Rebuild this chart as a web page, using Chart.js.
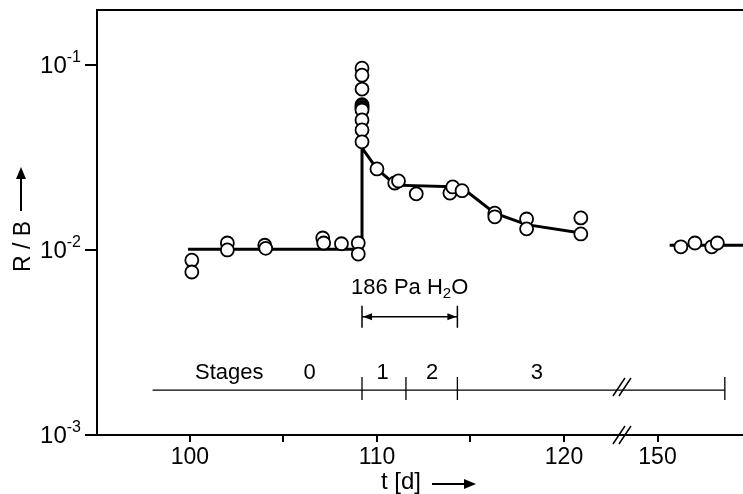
<!DOCTYPE html>
<html>
<head>
<meta charset="utf-8">
<script src="https://cdn.jsdelivr.net/npm/chart.js@4.4.1/dist/chart.umd.min.js"></script>
<style>
  html, body { margin: 0; padding: 0; background: #fff; overflow: hidden; }
  #wrap { width: 743px; height: 494px; overflow: hidden; }
</style>
</head>
<body>
<div id="wrap"><canvas id="chart" width="790" height="494"></canvas></div>
<script>
// measured points: time [d] and R/B
const measT = [100.1, 100.1, 102.0, 102.0, 104.0, 104.05, 107.1, 107.15, 108.1, 109.0, 109.0,
    109.2, 109.2, 109.2, 109.2, 109.2, 109.2, 109.2, 109.2, 109.2, 109.2, 109.2,
    110.0, 110.95, 111.15, 112.1, 113.9, 114.05, 114.55, 116.3, 116.3, 118.0, 118.0, 120.9, 120.9,
    151.25, 152.0, 152.9, 153.2];
const measRB = [0.0088, 0.0076, 0.0109, 0.0100, 0.0106, 0.0102, 0.0116, 0.0109, 0.0108, 0.0109, 0.0095,
    0.096, 0.088, 0.074, 0.061, 0.060, 0.059, 0.058, 0.057, 0.0504, 0.0445, 0.0384,
    0.0274, 0.0230, 0.0236, 0.0201, 0.0203, 0.0219, 0.0209, 0.0158, 0.0151, 0.0147, 0.0130, 0.0149, 0.0122,
    0.0104, 0.0109, 0.0104, 0.0109];

// fitted curve
const fitT = [99.9, 109.2, 109.2, 110.0, 111.0, 114.5, 116.3, 118.0, 121.0];
const fitRB = [0.0101, 0.0101, 0.0356, 0.0274, 0.0224, 0.0219, 0.0158, 0.0137, 0.0123];
const fitLateT = [150.65, 160];
const fitLateRB = [0.0106, 0.0106];

// axes
const xTickVals = [100, 105, 110, 115, 120, 150];
const xTickLabels = ['100', '', '110', '', '120', '150'];
const yTickVals = [0.001, 0.01, 0.1];
const yTickExp = ['-3', '-2', '-1'];
const breakFrom = 123.1, breakShift = 25;   // 150 d is drawn at 125

// stages
const stageBounds = [98, 109.2, 111.55, 114.3, 153.6];
const stageNames = ['Stages', '0', '1', '2', '3'];
const stageNameT = [102.1, 106.4, 110.3, 112.95, 118.55];
const stageLevel = 0.00175;

// exposure annotation
const exposureT = [109.2, 114.3];
const exposureLevel = 0.00435;

const FONT = '"Liberation Sans", Arial, Helvetica, sans-serif';

function tx(t) { return t > breakFrom + 5 ? t - breakShift : t; }
const pts = (ts, vs) => ts.map((t, i) => ({ x: tx(t), y: vs[i] }));

function arrowHead(ctx, x, y, dir, len, half) {
    ctx.beginPath();
    ctx.moveTo(x, y);
    ctx.lineTo(x - dir * len, y - half);
    ctx.lineTo(x - dir * len, y + half);
    ctx.closePath();
    ctx.fill();
}

const extras = {
    id: 'extras',
    afterDraw(chart) {
        const ctx = chart.ctx, ca = chart.chartArea;
        const xs = chart.scales.x, ys = chart.scales.y;
        ctx.save();
        ctx.strokeStyle = '#000';
        ctx.fillStyle = '#000';

        // frame top and x axis stub left of y axis
        ctx.lineWidth = 2;
        ctx.beginPath();
        ctx.moveTo(ca.left - 1, ca.top);
        ctx.lineTo(chart.width, ca.top);
        ctx.moveTo(ca.left - 7, ca.bottom);
        ctx.lineTo(ca.left, ca.bottom);
        ctx.stroke();

        // y labels 10^n
        yTickVals.forEach((v, i) => {
            const y = ys.getPixelForValue(v);
            ctx.font = '16px ' + FONT;
            const sw = ctx.measureText(yTickExp[i]).width;
            ctx.textAlign = 'left';
            ctx.textBaseline = 'middle';
            ctx.fillText(yTickExp[i], 81 - sw, y - 7);
            ctx.font = '24px ' + FONT;
            ctx.textAlign = 'right';
            ctx.fillText('10', 81 - sw, y + 1);
        });

        // axis break marks
        const drawBreak = (y) => {
            const X = xs.getPixelForValue(breakFrom);
            ctx.lineWidth = 1.5;
            ctx.beginPath();
            [-3, 3].forEach(o => {
                ctx.moveTo(X + o - 6, y + 9);
                ctx.lineTo(X + o + 6, y - 9);
            });
            ctx.stroke();
        };
        drawBreak(ca.bottom);

        // stages
        const sy = ys.getPixelForValue(stageLevel);
        ctx.lineWidth = 1.3;
        ctx.beginPath();
        ctx.moveTo(xs.getPixelForValue(tx(stageBounds[0])), sy);
        ctx.lineTo(xs.getPixelForValue(tx(stageBounds[stageBounds.length - 1])), sy);
        stageBounds.slice(1).forEach(t => {
            const X = xs.getPixelForValue(tx(t));
            ctx.moveTo(X, sy - 13);
            ctx.lineTo(X, sy + 10);
        });
        ctx.stroke();
        drawBreak(sy - 3);
        ctx.font = '22px ' + FONT;
        ctx.textAlign = 'center';
        ctx.textBaseline = 'middle';
        stageNames.forEach((s, i) => {
            ctx.fillText(s, xs.getPixelForValue(tx(stageNameT[i])), sy - 17);
        });

        // exposure arrow 186 Pa H2O
        const ay = ys.getPixelForValue(exposureLevel);
        const x1 = xs.getPixelForValue(exposureT[0]), x2 = xs.getPixelForValue(exposureT[1]);
        ctx.lineWidth = 1.5;
        ctx.beginPath();
        ctx.moveTo(x1, ay); ctx.lineTo(x2, ay);
        ctx.moveTo(x1, ay - 11); ctx.lineTo(x1, ay + 11);
        ctx.moveTo(x2, ay - 11); ctx.lineTo(x2, ay + 11);
        ctx.stroke();
        arrowHead(ctx, x1 + 1, ay, -1, 9, 3.5);
        arrowHead(ctx, x2 - 1, ay, 1, 9, 3.5);
        ctx.font = '22px ' + FONT;
        const p1 = '186 Pa H', p2 = '2', p3 = 'O';
        const w1 = ctx.measureText(p1).width, w3 = ctx.measureText(p3).width;
        ctx.font = '15px ' + FONT;
        const w2 = ctx.measureText(p2).width;
        let tx0 = (x1 + x2) / 2 - (w1 + w2 + w3) / 2;
        const ty = ay - 29;
        ctx.textAlign = 'left';
        ctx.font = '22px ' + FONT;
        ctx.fillText(p1, tx0, ty);
        ctx.font = '15px ' + FONT;
        ctx.fillText(p2, tx0 + w1, ty + 6);
        ctx.font = '22px ' + FONT;
        ctx.fillText(p3, tx0 + w1 + w2, ty);

        // y axis title
        ctx.save();
        ctx.translate(24, 272);
        ctx.rotate(-Math.PI / 2);
        ctx.font = '23px ' + FONT;
        ctx.textAlign = 'left';
        ctx.textBaseline = 'middle';
        ctx.fillText('R / B', 0, 0);
        ctx.restore();
        ctx.lineWidth = 2;
        ctx.beginPath();
        ctx.moveTo(21, 211); ctx.lineTo(21, 176);
        ctx.stroke();
        ctx.beginPath();
        ctx.moveTo(21, 167); ctx.lineTo(16, 179); ctx.lineTo(26, 179);
        ctx.closePath(); ctx.fill();

        // x axis title
        ctx.font = '24px ' + FONT;
        ctx.textAlign = 'left';
        ctx.textBaseline = 'middle';
        ctx.fillText('t [d]', 381, 482);
        ctx.beginPath();
        ctx.moveTo(432, 484); ctx.lineTo(466, 484);
        ctx.stroke();
        ctx.beginPath();
        ctx.moveTo(476, 484); ctx.lineTo(464, 479); ctx.lineTo(464, 489);
        ctx.closePath(); ctx.fill();

        ctx.restore();
    }
};

new Chart(document.getElementById('chart'), {
    type: 'scatter',
    data: {
        datasets: [{
            label: 'R/B',
            data: pts(measT, measRB),
            pointRadius: 6.5,
            pointBackgroundColor: '#fff',
            pointBorderColor: '#000',
            pointBorderWidth: 1.8,
            order: 1
        }, {
            label: 'fit',
            data: pts(fitT, fitRB),
            showLine: true,
            borderColor: '#000',
            borderWidth: 3,
            pointRadius: 0,
            order: 2
        }, {
            label: 'fit late',
            data: pts(fitLateT, fitLateRB),
            showLine: true,
            borderColor: '#000',
            borderWidth: 3,
            pointRadius: 0,
            order: 2
        }]
    },
    options: {
        responsive: false,
        animation: false,
        devicePixelRatio: 1,
        layout: { padding: { left: 0, top: 10, right: 10, bottom: 0 } },
        plugins: {
            legend: { display: false },
            tooltip: { enabled: false }
        },
        scales: {
            x: {
                type: 'linear',
                min: 95.03,
                max: 131.55,
                afterFit: s => { s.height = 59; },
                afterBuildTicks: s => { s.ticks = xTickVals.map(v => ({ value: tx(v) })); },
                grid: { drawOnChartArea: false, drawTicks: true, tickLength: 7, color: '#000', lineWidth: 2 },
                border: { display: true, color: '#000', width: 2 },
                ticks: {
                    autoSkip: false,
                    maxRotation: 0,
                    padding: 2,
                    color: '#000',
                    font: { family: FONT, size: 23 },
                    callback: (v, i) => xTickLabels[i]
                }
            },
            y: {
                type: 'logarithmic',
                min: 0.001,
                max: 0.198,
                afterFit: s => { s.width = 97; },
                afterBuildTicks: s => { s.ticks = yTickVals.map(v => ({ value: v })); },
                grid: { drawOnChartArea: false, drawTicks: true, tickLength: 12, color: '#000', lineWidth: 2 },
                border: { display: true, color: '#000', width: 2 },
                ticks: { display: false }
            }
        }
    },
    plugins: [extras]
});
</script>
</body>
</html>
